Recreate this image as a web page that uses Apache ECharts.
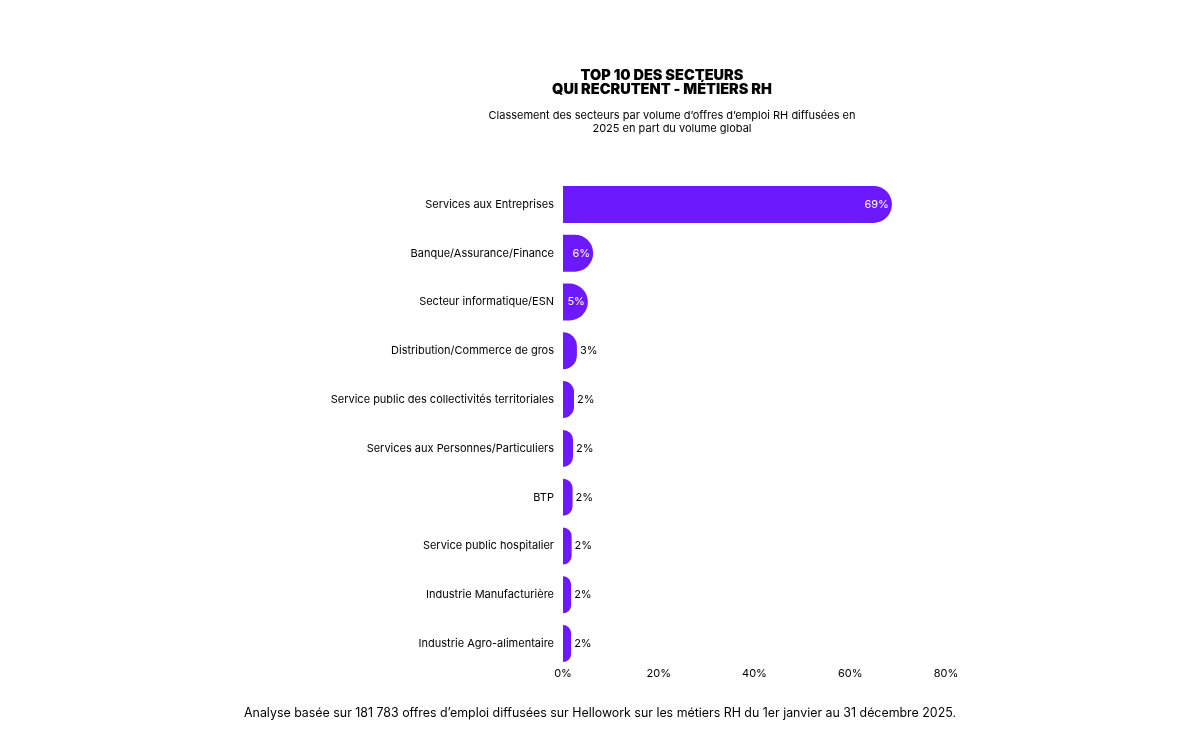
<!DOCTYPE html><html><head><meta charset="utf-8"><script src="https://cdn.jsdelivr.net/npm/echarts@6/dist/echarts.min.js"></script>
<style>body{margin:0;background:#fff}#c{width:1200px;height:740px}</style></head><body><div id="c"></div><script>
const categories=["Services aux Entreprises","Banque/Assurance/Finance","Secteur informatique/ESN","Distribution/Commerce de gros","Service public des collectivités territoriales","Services aux Personnes/Particuliers","BTP","Service public hospitalier","Industrie Manufacturière","Industrie Agro-alimentaire"];
const values=[68.7,6.3,5.2,2.9,2.3,2.1,2.0,1.8,1.7,1.7];
const xTicks=[0,20,40,60,80];
const F='Inter, "Noto Sans", sans-serif';
const c=echarts.init(document.getElementById('c'));
c.setOption({
 title:[{text:"TOP 10 DES SECTEURS\nQUI RECRUTENT - MÉTIERS RH",left:657,top:64,textAlign:'center',
  textStyle:{fontFamily:F,fontSize:14.5,fontWeight:900,color:'#000',lineHeight:14}},
  {text:"Classement des secteurs par volume d’offres d’emploi RH diffusées en\n2025 en part du volume global",left:667,top:104,textAlign:'center',
  textStyle:{fontFamily:F,fontSize:11,fontWeight:'normal',color:'#000',lineHeight:13}}],
 graphic:[{type:'text',left:'center',top:707,style:{text:"Analyse basée sur 181 783 offres d’emploi diffusées sur Hellowork sur les métiers RH du 1er janvier au 31 décembre 2025.",font:'12.4px '+F,fill:'#000'}}],
 grid:{left:563,right:254,top:180,bottom:72},
 xAxis:{type:'value',min:0,max:80,interval:20,splitLine:{show:false},axisLine:{show:false},axisTick:{show:false},
  axisLabel:{fontFamily:F,fontSize:11,color:'#000',margin:0,formatter:v=>v+'%'}},
 yAxis:{type:'category',inverse:true,data:categories,axisLine:{show:false},axisTick:{show:false},
  axisLabel:{fontFamily:F,fontSize:11,color:'#000',margin:9}},
 series:[{type:'bar',data:values.map(v=>({value:v,label:v>4?{position:'insideRight',color:'#fff'}:{position:'right',color:'#000'}})),barWidth:37,
  itemStyle:{color:'#6c19ff',borderRadius:[0,19,19,0]},
  label:{show:true,fontFamily:F,fontSize:11,formatter:p=>Math.round(p.value)+'%',distance:3}}]
});
</script></body></html>
